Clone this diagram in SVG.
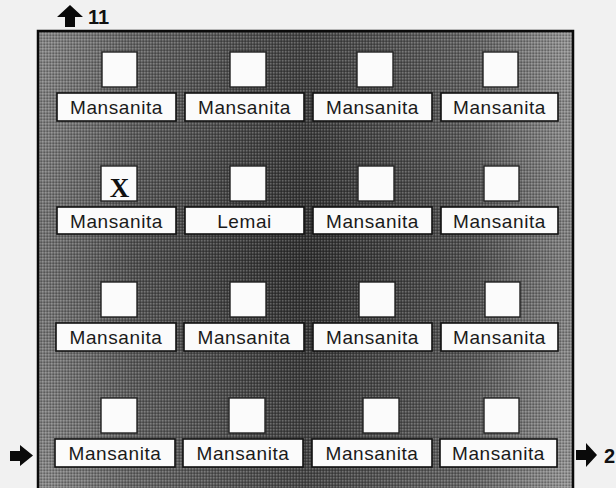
<svg xmlns="http://www.w3.org/2000/svg" width="616" height="488" viewBox="0 0 616 488">
<style>
  .lbl { fill: #fbfbfb; stroke: #111; stroke-width: 1.6; }
  .sq { fill: #fbfbfb; stroke: #222; stroke-width: 1.4; }
  .t { font-family: "Liberation Sans", Arial, sans-serif; font-size: 19px; fill: #1a1a1a; text-anchor: middle; letter-spacing: 0.6px; }
  .x { font-family: "Liberation Serif", "Times New Roman", serif; font-size: 27px; font-weight: bold; fill: #111; text-anchor: middle; }
  .num { font-family: "Liberation Sans", Arial, sans-serif; font-size: 20px; font-weight: bold; fill: #111; }
  .arrow { fill: #0a0a0a; }
</style>
<defs>
  <linearGradient id="bg" x1="0" y1="0" x2="1" y2="0">
    <stop offset="0" stop-color="#7c7c7c"/>
    <stop offset="0.18" stop-color="#555"/>
    <stop offset="0.5" stop-color="#323232"/>
    <stop offset="0.82" stop-color="#555"/>
    <stop offset="1" stop-color="#8c8c8c"/>
  </linearGradient>
  <linearGradient id="vshade" x1="0" y1="0" x2="0" y2="1">
    <stop offset="0" stop-color="#fff" stop-opacity="0.08"/>
    <stop offset="0.5" stop-color="#000" stop-opacity="0.08"/>
    <stop offset="1" stop-color="#fff" stop-opacity="0.1"/>
  </linearGradient>
  <pattern id="dots" width="3" height="3" patternUnits="userSpaceOnUse">
    <rect x="0" y="0" width="1.5" height="1.5" fill="#fff" fill-opacity="0.22"/>
    <rect x="1.5" y="1.5" width="1.5" height="1.5" fill="#000" fill-opacity="0.25"/>
  </pattern>
</defs>
<rect width="616" height="488" fill="#f1f1f1"/>

<g id="field">
  <rect x="38" y="31" width="535" height="460" fill="url(#bg)"/>
  <rect x="38" y="31" width="535" height="460" fill="url(#vshade)"/>
  <rect x="38" y="31" width="535" height="460" fill="url(#dots)"/>
  <rect x="38" y="31" width="535" height="460" fill="none" stroke="#0a0a0a" stroke-width="2.5"/>
</g>

<g id="r1c1"><rect class="sq" x="102" y="52" width="35" height="35"/><rect class="lbl" x="57" y="93" width="119" height="28"/><text class="t" x="116.5" y="114">Mansanita</text></g>
<g id="r1c2"><rect class="sq" x="230" y="52" width="36" height="35"/><rect class="lbl" x="185" y="93" width="119" height="28"/><text class="t" x="244.5" y="114">Mansanita</text></g>
<g id="r1c3"><rect class="sq" x="357" y="52" width="36" height="35"/><rect class="lbl" x="313" y="93" width="119" height="28"/><text class="t" x="372.5" y="114">Mansanita</text></g>
<g id="r1c4"><rect class="sq" x="483" y="52" width="35" height="35"/><rect class="lbl" x="441" y="93" width="117" height="28"/><text class="t" x="499.5" y="114">Mansanita</text></g>

<g id="r2c1"><rect class="sq" x="101" y="166" width="36" height="35"/><text class="x" x="119.5" y="197">X</text><rect class="lbl" x="57" y="207" width="119" height="27"/><text class="t" x="116.5" y="228">Mansanita</text></g>
<g id="r2c2"><rect class="sq" x="230" y="166" width="36" height="35"/><rect class="lbl" x="185" y="207" width="119" height="27"/><text class="t" x="244.5" y="228">Lemai</text></g>
<g id="r2c3"><rect class="sq" x="358" y="166" width="36" height="35"/><rect class="lbl" x="313" y="207" width="119" height="27"/><text class="t" x="372.5" y="228">Mansanita</text></g>
<g id="r2c4"><rect class="sq" x="484" y="166" width="35" height="35"/><rect class="lbl" x="441" y="207" width="117" height="27"/><text class="t" x="499.5" y="228">Mansanita</text></g>

<g id="r3c1"><rect class="sq" x="101" y="282" width="36" height="35"/><rect class="lbl" x="56" y="323" width="120" height="28"/><text class="t" x="116" y="344">Mansanita</text></g>
<g id="r3c2"><rect class="sq" x="230" y="282" width="36" height="35"/><rect class="lbl" x="184" y="323" width="120" height="28"/><text class="t" x="244" y="344">Mansanita</text></g>
<g id="r3c3"><rect class="sq" x="359" y="282" width="36" height="35"/><rect class="lbl" x="313" y="323" width="119" height="28"/><text class="t" x="372.5" y="344">Mansanita</text></g>
<g id="r3c4"><rect class="sq" x="485" y="282" width="35" height="35"/><rect class="lbl" x="441" y="323" width="117" height="28"/><text class="t" x="499.5" y="344">Mansanita</text></g>

<g id="r4c1"><rect class="sq" x="101" y="398" width="36" height="35"/><rect class="lbl" x="55" y="439" width="120" height="28"/><text class="t" x="115" y="460">Mansanita</text></g>
<g id="r4c2"><rect class="sq" x="229" y="398" width="36" height="35"/><rect class="lbl" x="183" y="439" width="120" height="28"/><text class="t" x="243" y="460">Mansanita</text></g>
<g id="r4c3"><rect class="sq" x="363" y="398" width="36" height="35"/><rect class="lbl" x="312" y="439" width="120" height="28"/><text class="t" x="372" y="460">Mansanita</text></g>
<g id="r4c4"><rect class="sq" x="484" y="398" width="35" height="35"/><rect class="lbl" x="440" y="439" width="117" height="28"/><text class="t" x="498.5" y="460">Mansanita</text></g>

<g id="connectors">
  <polygon class="arrow" points="70,5 83,17 75,17 75,27 65,27 65,17 57,17"/>
  <text class="num" x="88" y="24">11</text>
  <polygon class="arrow" points="10,451 20,451 20,445 33,455.5 20,466 20,461 10,461"/>
  <polygon class="arrow" points="576,450 586,450 586,443 597,455 586,467 586,460 576,460"/>
  <text class="num" x="604" y="463">2</text>
</g>
</svg>
